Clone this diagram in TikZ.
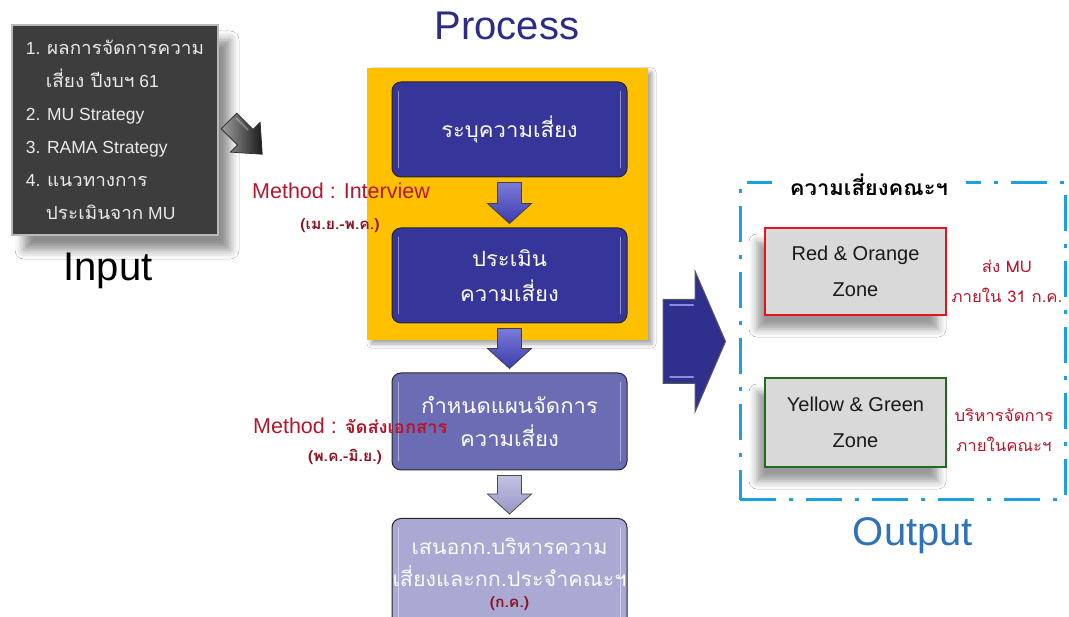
\documentclass[tikz,border=0pt]{standalone}
\usepackage{fontspec}
\setmainfont{Liberation Sans}
\newfontfamily\thai[Script=Thai,FakeStretch=1.05]{Loma}
\newfontfamily\thaibig[Script=Thai,FakeStretch=1.05,Scale=1.03]{Loma}
\usetikzlibrary{calc,shadows.blur}

\definecolor{inputgray}{HTML}{3D3D3D}
\definecolor{inputtext}{HTML}{EAEAEA}
\definecolor{amber}{HTML}{FFC000}
\definecolor{stepdeep}{HTML}{35359A}
\definecolor{stepmid}{HTML}{6C6CB4}
\definecolor{steppale}{HTML}{A9A9D4}
\definecolor{redtext}{HTML}{B5162B}
\definecolor{darkredtext}{HTML}{8B1420}
\definecolor{dashblue}{HTML}{1BA1E2}
\definecolor{titleblue}{HTML}{2C2C86}
\definecolor{outblue}{HTML}{2E72B8}
\definecolor{zonegray}{HTML}{D9D9D9}
\definecolor{zonered}{HTML}{E5131B}
\definecolor{zonegreen}{HTML}{1F6B1F}
\definecolor{arrowtop}{HTML}{7A7AD8}
\definecolor{arrowbot}{HTML}{3C3CAE}
\definecolor{paletop}{HTML}{C2C2E2}
\definecolor{palebot}{HTML}{9696C6}
\definecolor{bigarrow}{HTML}{2F2F8E}
\definecolor{bigshine}{HTML}{8C8CE0}

% block arrow pointing down, from the bottom of one box to the top of the next
\newcommand\flowarrow[3]{%
  \path[#3] let \p1=(#1.south), \p2=(#2.north) in
    (\x1-12pt,\y1-5pt) -- (\x1+12pt,\y1-5pt) -- (\x1+12pt,\y2+24pt)
    -- (\x1+22pt,\y2+24pt) -- (\x1,\y2+4pt) -- (\x1-22pt,\y2+24pt)
    -- (\x1-12pt,\y2+24pt) -- cycle;}
% light bevel lines along the inner left and right edges of a box
\newcommand\bevel[1]{%
  \draw[white, opacity=.45, line width=1.6pt, line cap=round]
    ([xshift=7pt,yshift=-10pt]#1.north west) -- ([xshift=7pt,yshift=10pt]#1.south west);
  \draw[white, opacity=.45, line width=1.6pt, line cap=round]
    ([xshift=-7pt,yshift=-10pt]#1.north east) -- ([xshift=-7pt,yshift=10pt]#1.south east);}

\tikzset{
  heading/.style={font=\fontsize{40}{46}\selectfont},
  stepbox/.style={rounded corners=9pt, minimum width=235pt, draw=black!85,
    line width=1pt, text=white, align=center, inner sep=0pt,
    font=\thai\fontsize{21}{35}\selectfont},
  method/.style={text=redtext, font=\fontsize{21.5}{24}\selectfont, inner sep=0pt},
  period/.style={text=darkredtext, font=\thai\bfseries\fontsize{15}{18}\selectfont, inner sep=0pt},
  zonebox/.style={fill=zonegray, line width=2.5pt, minimum width=181pt,
    align=center, font=\fontsize{20}{36}\selectfont, text=black!90,
    blur shadow={shadow xshift=-8pt, shadow yshift=-14pt, shadow blur radius=8pt, shadow opacity=40}},
  note/.style={text=redtext, align=center, font=\thai\fontsize{16}{30}\selectfont, inner sep=0pt},
  downarrow/.style={top color=arrowtop, bottom color=arrowbot, draw=black!75, line width=.8pt},
}

\begin{document}
\begin{tikzpicture}[x=1pt,y=-1pt]
\useasboundingbox[fill=white] (0,0) rectangle (1069,617);

% ---------- input ----------
\node[fill=inputgray, draw=gray!55, line width=2pt, minimum width=206pt,
      minimum height=210pt, align=left, text=inputtext,
      font=\fontsize{17.5}{33}\selectfont,
      blur shadow={shadow xshift=12pt, shadow yshift=-15pt, shadow blur radius=9pt, shadow opacity=45}]
  (input) at (115,130)
  {1. {\thaibig ผลการจัดการความ}\\
   \hspace*{20pt}{\thaibig เสี่ยง ปีงบฯ} 61\\
   2. MU Strategy\\
   3. RAMA Strategy\\
   4. {\thaibig แนวทางการ}\\
   \hspace*{20pt}{\thaibig ประเมินจาก} MU};
\node[heading, text=black] (inlabel) at (108,271) {Input};

\begin{scope}[shift={($(input.east)+(10,-9)$)}, rotate=-45]
  \path[left color=gray!75, right color=black!90, draw=black!80, line width=.8pt]
    (0,-11) -- (23,-11) -- (23,-21) -- (47,0) -- (23,21) -- (23,11) -- (0,11) -- cycle;
  \draw[white, opacity=.35, line width=1.2pt] (3,-7) -- (20,-7);
\end{scope}

% ---------- process ----------
\node[heading, text=titleblue] (proclabel) at (507,26) {Process};

\node[fill=amber, minimum width=281pt, minimum height=272pt,
      blur shadow={shadow xshift=4pt, shadow yshift=-4pt, shadow blur radius=4pt, shadow opacity=35}]
  (stage) at (507.5,204) {};

\node[stepbox, fill=stepdeep, minimum height=95pt] (s1) at (509.5,129.5) {ระบุความเสี่ยง};
\node[stepbox, fill=stepdeep, minimum height=95pt] (s2) at (509.5,275.5) {ประเมิน\\ความเสี่ยง};
\node[stepbox, fill=stepmid, minimum height=97pt, font=\thai\fontsize{21}{33}\selectfont] (s3) at (509.5,421.5) {กำหนดแผนจัดการ\\ความเสี่ยง};
\node[stepbox, fill=steppale, minimum height=112pt, anchor=north, text=white!95!steppale,
      font=\thai\fontsize{20.5}{32}\selectfont] (s4) at (509.5,518)
  {เสนอกก.บริหารความ\\เสี่ยงและกก.ประจำคณะฯ\\[-11pt]{\color{darkredtext}\bfseries\fontsize{15}{18}\selectfont (ก.ค.)}};
\bevel{s1}\bevel{s2}\bevel{s3}\bevel{s4}

\flowarrow{s1}{s2}{downarrow}
\flowarrow{s2}{s3}{downarrow}
\flowarrow{s3}{s4}{top color=paletop, bottom color=palebot, draw=black!70, line width=.8pt}

\node[method] (m1) at (341,191) {Method : Interview};
\node[period] (p1) at (340,226) {(เม.ย.-พ.ค.)};
\node[method, anchor=west] (m2) at (253,426) {Method : {\thai\bfseries\fontsize{17.5}{20}\selectfont จัดส่งเอกสาร}};
\node[period] (p2) at (345,457) {(พ.ค.-มิ.ย.)};

% ---------- output ----------
\node[draw=dashblue, line width=3pt, minimum width=325pt, minimum height=317pt,
      dash pattern=on 36pt off 13pt on 4pt off 13pt]
  (frame) at (902.5,341.5) {};
\node[fill=white, inner xsep=18pt, inner ysep=8pt, font=\thai\bfseries\fontsize{21}{24}\selectfont]
  (ftitle) at (869,185) {ความเสี่ยงคณะฯ};

\path[fill=bigarrow, draw=black!65, line width=1pt]
  let \p1=(stage.east), \p2=(frame.west) in
  (\x1+15pt,\y2+42pt) -- (\x1+47pt,\y2+42pt) -- (\x1+47pt,\y2+70pt) -- (\x2-13pt,\y2)
  -- (\x1+47pt,\y2-70pt) -- (\x1+47pt,\y2-42pt) -- (\x1+15pt,\y2-42pt) -- cycle;
\draw[bigshine, line width=2pt, line cap=round]
  let \p1=(stage.east), \p2=(frame.west) in
  (\x1+22pt,\y2+36pt) -- (\x1+45pt,\y2+36pt)
  (\x1+22pt,\y2-36pt) -- (\x1+45pt,\y2-36pt);

\node[zonebox, draw=zonered, minimum height=87pt] (red) at (855.5,271.5) {Red \& Orange\\Zone};
\node[zonebox, draw=zonegreen, minimum height=89pt] (green) at (855.5,422.5) {Yellow \& Green\\Zone};

\node[note] (n1) at (1007,281) {ส่ง MU\\ภายใน 31 ก.ค.};
\node[note] (n2) at (1004,430.5) {บริหารจัดการ\\ภายในคณะฯ};

\node[heading, text=outblue] (outlabel) at (913,536) {Output};
\end{tikzpicture}
\end{document}
